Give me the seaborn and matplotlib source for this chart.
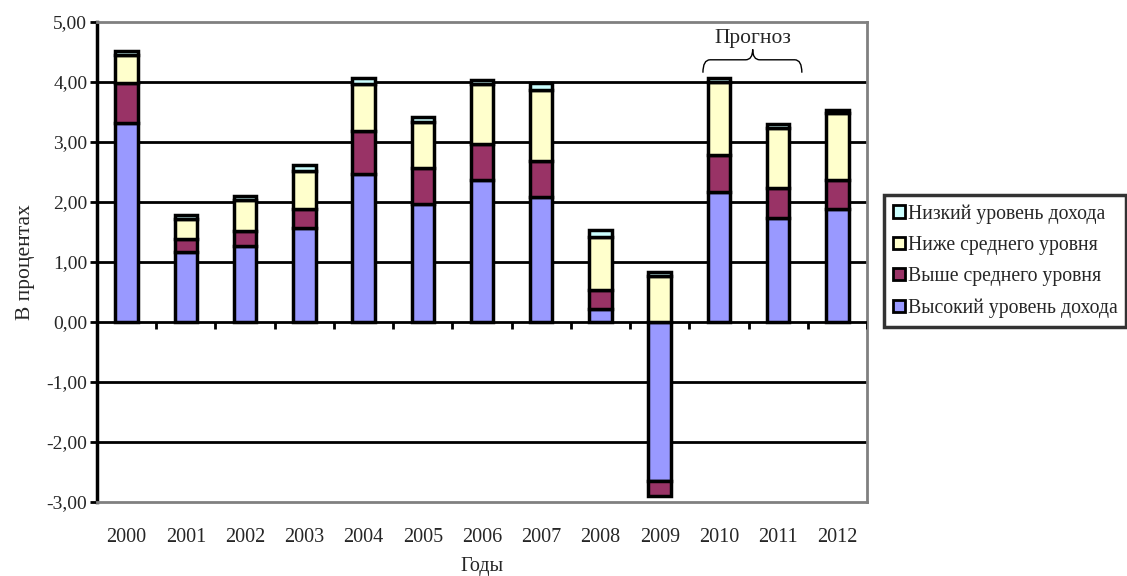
import numpy as np
import pandas as pd
import matplotlib
matplotlib.use("Agg")
import matplotlib.pyplot as plt
from matplotlib.patches import Patch, PathPatch
from matplotlib.path import Path
from matplotlib.ticker import FuncFormatter
import seaborn as sns

# ---- data ---- #
years = [str(y) for y in range(2000, 2013)]
high_income = [3.32, 1.16, 1.27, 1.57, 2.47, 1.97, 2.36, 2.08, 0.21, -2.65, 2.17, 1.73, 1.89]
upper_middle = [0.67, 0.22, 0.25, 0.32, 0.71, 0.60, 0.61, 0.60, 0.32, -0.25, 0.62, 0.50, 0.47]
lower_middle = [0.46, 0.34, 0.52, 0.63, 0.79, 0.77, 1.00, 1.18, 0.89, 0.77, 1.21, 1.01, 1.12]
low_income = [0.06, 0.07, 0.06, 0.10, 0.10, 0.08, 0.06, 0.12, 0.12, 0.06, 0.06, 0.06, 0.06]

series_names = ["Высокий уровень дохода", "Выше среднего уровня",
                "Ниже среднего уровня", "Низкий уровень дохода"]
series_values = [high_income, upper_middle, lower_middle, low_income]
series_colors = ["#9999FF", "#993366", "#FFFFCC", "#CCFFFF"]
forecast_label = "Прогноз"

sns.set_style("white")
plt.rcParams["font.family"] = ["Liberation Serif", "DejaVu Serif"]

fig = plt.figure(figsize=(11.27, 5.76), dpi=100)
ax = fig.add_axes([97 / 1127, 74 / 576, 770 / 1127, 480 / 576])

# horizontal grid lines behind the bars
for v in [-2, -1, 1, 2, 3, 4]:
    ax.axhline(v, color="black", lw=2, zorder=0)

# stacked bars: positives grow up from 0, negatives grow down from 0
pos_base = np.zeros(len(years))
neg_base = np.zeros(len(years))
for name, vals, col in zip(series_names, series_values, series_colors):
    vals = np.asarray(vals, dtype=float)
    bottom = np.where(vals >= 0, pos_base, neg_base)
    df = pd.DataFrame({"year": years, "value": vals})
    sns.barplot(data=df, x="year", y="value", order=years, bottom=bottom,
                color=col, saturation=1, width=0.38, edgecolor="black",
                linewidth=2.5, errorbar=None, ax=ax, zorder=2)
    pos_base = pos_base + np.clip(vals, 0, None)
    neg_base = neg_base + np.clip(vals, None, 0)

# zero axis with tick marks between categories
ax.axhline(0, color="black", lw=2, zorder=3)
ax.vlines(np.arange(len(years)) + 0.5, -0.11, 0, color="black", lw=2, zorder=3)

ax.set_xlim(-0.5, len(years) - 0.5)
ax.set_ylim(-3, 5)
ax.set_yticks(range(-3, 6))
ax.yaxis.set_major_formatter(FuncFormatter(lambda v, _: f"{v:.2f}".replace(".", ",")))
ax.tick_params(axis="y", length=5, width=2, color="black", labelsize=14, pad=2, left=True)
ax.tick_params(axis="x", length=0, labelsize=14.5, pad=19)

for side in ["top", "right", "bottom"]:
    ax.spines[side].set_color("#808080")
    ax.spines[side].set_linewidth(2)
ax.spines["left"].set_color("black")
ax.spines["left"].set_linewidth(2.5)

ax.set_xlabel("Годы", fontsize=14.5, labelpad=7)
ax.set_ylabel("В процентах", fontsize=15.5, labelpad=8)

# "Прогноз" brace over the forecast years
x0, xm, x1 = 9.73, 10.57, 11.40
y0, yh, yt = 4.155, 4.37, 4.545
verts = [(x0, y0), (x0, yh), (x0 + 0.12, yh),
         (xm - 0.12, yh), (xm, yh), (xm, yt),
         (xm, yh), (xm + 0.12, yh),
         (x1 - 0.12, yh), (x1, yh), (x1, y0)]
codes = [Path.MOVETO, Path.CURVE3, Path.CURVE3,
         Path.LINETO, Path.CURVE3, Path.CURVE3,
         Path.CURVE3, Path.CURVE3,
         Path.LINETO, Path.CURVE3, Path.CURVE3]
ax.add_patch(PathPatch(Path(verts, codes), fill=False, lw=1, color="black",
                       clip_on=False, zorder=4))
ax.text(xm, 4.73, forecast_label, ha="center", va="center", fontsize=15.5)

# legend, top entry is the low-income series
handles = [Patch(facecolor=c, edgecolor="black", lw=2, label=n)
           for n, c in zip(series_names[::-1], series_colors[::-1])]
leg = fig.legend(handles=handles, loc="center left", bbox_to_anchor=(884 / 1127, 1 - 261 / 576),
                 fontsize=14.2, frameon=True, fancybox=False, handlelength=0.6,
                 handleheight=0.6, handletextpad=0.15, labelspacing=0.62,
                 borderpad=0.45, borderaxespad=0)
leg.get_frame().set_edgecolor("black")
leg.get_frame().set_linewidth(2.5)

fig.savefig("out.png", dpi=100)
